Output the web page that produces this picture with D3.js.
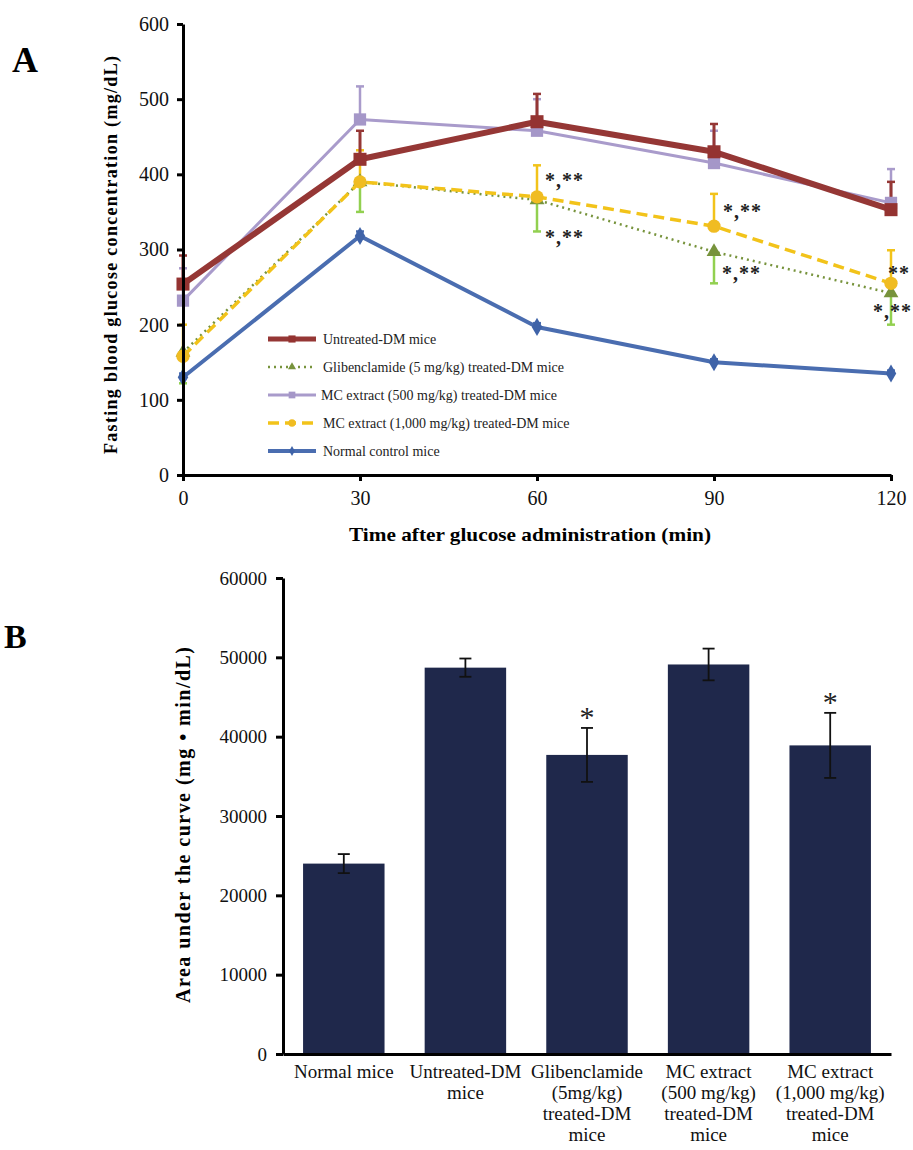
<!DOCTYPE html>
<html>
<head>
<meta charset="utf-8">
<script src="https://cdn.jsdelivr.net/npm/d3@7"></script>
<style>
body { margin: 0; background: #fff; }
text { font-family: "Liberation Serif", "Times New Roman", serif; }
</style>
</head>
<body>
<script>
// panel A data
const times = [0, 30, 60, 90, 120];
const untreated = [254, 420, 470, 430, 353];
const untreatedErr = [38, 38, 37, 37, 37];
const gliben = [163, 390, 366, 297, 242];
const glibenErr = [41, 40, 42, 42, 42];
const mc500 = [232, 473, 458, 415, 362];
const mc500Err = [43, 44, 42, 43, 45];
const mc1000 = [158, 390, 370, 331, 255];
const mc1000Err = [42, 42, 42, 43, 44];
const normal = [130, 318, 197, 150, 135];
const normalErr = [5, 6, 5, 4, 4];
const yTicksA = [0, 100, 200, 300, 400, 500, 600];
const legendLabels = ["Untreated-DM mice", "Glibenclamide (5 mg/kg) treated-DM mice",
  "MC extract (500 mg/kg) treated-DM mice", "MC extract (1,000 mg/kg) treated-DM mice", "Normal control mice"];

// panel B data
const groups = ["Normal mice", "Untreated-DM mice", "Glibenclamide (5mg/kg) treated-DM mice",
  "MC extract (500 mg/kg) treated-DM mice", "MC extract (1,000 mg/kg) treated-DM mice"];
const groupLines = [["Normal mice"], ["Untreated-DM", "mice"], ["Glibenclamide", "(5mg/kg)", "treated-DM", "mice"],
  ["MC extract", "(500 mg/kg)", "treated-DM", "mice"], ["MC extract", "(1,000 mg/kg)", "treated-DM", "mice"]];
const auc = [24000, 48700, 37700, 49100, 38900];
const aucErr = [1200, 1150, 3400, 2000, 4100];
const aucStar = [false, false, true, false, true];
const yTicksB = [0, 10000, 20000, 30000, 40000, 50000, 60000];

const svg = d3.select("body").append("svg")
  .attr("width", 913).attr("height", 1150);

// ---------- Panel A ----------
const xA = d3.scaleLinear().domain([0, 120]).range([183, 891]);
const yA = d3.scaleLinear().domain([0, 600]).range([475, 24]);

const series = [
  { name: legendLabels[4], v: normal, e: normalErr, dir: 1, color: "#4a6db0", width: 4, dash: null,
    sym: d3.symbolDiamond, size: 95, mcolor: "#3f63a8", ecolor: "#4a6db0" },
  { name: legendLabels[1], v: gliben, e: glibenErr, dir: -1, color: "#77933c", width: 2.5, dash: "2,4",
    sym: d3.symbolTriangle, size: 95, mcolor: "#77933c", ecolor: "#92d050" },
  { name: legendLabels[3], v: mc1000, e: mc1000Err, dir: 1, color: "#f2c31a", width: 3.5, dash: "11,6",
    sym: d3.symbolCircle, size: 140, mcolor: "#f0bc22", ecolor: "#f2c31a" },
  { name: legendLabels[2], v: mc500, e: mc500Err, dir: 1, color: "#a99bcb", width: 3, dash: null,
    sym: d3.symbolSquare, size: 150, mcolor: "#a597c8", ecolor: "#a99bcb" },
  { name: legendLabels[0], v: untreated, e: untreatedErr, dir: 1, color: "#953735", width: 6, dash: null,
    sym: d3.symbolSquare, size: 170, mcolor: "#943331", ecolor: "#953735" }
];

const gA = svg.append("g");

// error bars
series.forEach(s => {
  const eb = gA.append("g");
  times.forEach((t, i) => {
    const x = xA(t), y0 = yA(s.v[i]), y1 = yA(s.v[i] + s.dir * s.e[i]);
    eb.append("line").attr("x1", x).attr("x2", x).attr("y1", y0).attr("y2", y1)
      .attr("stroke", s.ecolor).attr("stroke-width", s.width >= 5 ? 3 : 2.5);
    eb.append("line").attr("x1", x - 4).attr("x2", x + 4).attr("y1", y1).attr("y2", y1)
      .attr("stroke", s.ecolor).attr("stroke-width", 2.5);
  });
});

const line = d3.line().x((d, i) => xA(times[i])).y(d => yA(d));
series.forEach(s => {
  gA.append("path").datum(s.v)
    .attr("d", line)
    .attr("fill", "none")
    .attr("stroke", s.color)
    .attr("stroke-width", s.width)
    .attr("stroke-dasharray", s.dash)
    .attr("stroke-linejoin", "round");
  gA.selectAll(null).data(s.v).enter().append("path")
    .attr("transform", (d, i) => `translate(${xA(times[i])},${yA(d)})`)
    .attr("d", d3.symbol().type(s.sym).size(s.size))
    .attr("fill", s.mcolor);
});

// axes A
const axisYA = gA.append("g").attr("transform", "translate(183,0)")
  .call(d3.axisLeft(yA).tickValues(yTicksA).tickSize(6).tickPadding(8).tickSizeOuter(0));
const axisXA = gA.append("g").attr("transform", "translate(0,475)")
  .call(d3.axisBottom(xA).tickValues(times).tickSize(6).tickPadding(10).tickSizeOuter(0));
[axisYA, axisXA].forEach(a => {
  a.select(".domain").attr("stroke", "#000").attr("stroke-width", 3);
  a.selectAll(".tick line").attr("stroke", "#000").attr("stroke-width", 3);
  a.selectAll(".tick text").attr("font-size", 20).attr("fill", "#111")
    .attr("font-family", "Liberation Serif, serif");
});

// significance marks
const starsA = [
  { t: 60, v: mc1000[2], txt: "*,**", dx: 8, dy: -10 },
  { t: 60, v: gliben[2], txt: "*,**", dx: 8, dy: 44 },
  { t: 90, v: mc1000[3], txt: "*,**", dx: 9, dy: -8 },
  { t: 90, v: gliben[3], txt: "*,**", dx: 8, dy: 28 },
  { t: 120, v: mc1000[4], txt: "**", dx: -3, dy: -3 },
  { t: 120, v: gliben[4], txt: "*,**", dx: -18, dy: 25 }
];
gA.selectAll(null).data(starsA).enter().append("text")
  .attr("x", d => xA(d.t) + d.dx)
  .attr("y", d => yA(d.v) + d.dy)
  .attr("font-size", 20).attr("font-weight", "bold").attr("fill", "#222")
  .attr("letter-spacing", 1)
  .text(d => d.txt);

// legend
const legOrder = [4, 1, 3, 2, 0];
const leg = gA.append("g");
legOrder.forEach((si, k) => {
  const s = series[si];
  const y = 339 + k * 28;
  leg.append("line").attr("x1", 268).attr("x2", 316).attr("y1", y).attr("y2", y)
    .attr("stroke", s.color).attr("stroke-width", s.width >= 5 ? 5 : s.width)
    .attr("stroke-dasharray", s.dash);
  leg.append("path").attr("transform", `translate(292,${y})`)
    .attr("d", d3.symbol().type(s.sym).size(s.size * 0.3)).attr("fill", s.mcolor);
  leg.append("text").attr("x", si === 3 ? 321 : 323).attr("y", y + 4.5)
    .attr("font-size", 14).attr("fill", "#222").text(s.name);
});

// titles A
svg.append("text").attr("x", 12).attr("y", 72).attr("font-size", 36).attr("font-weight", "bold").text("A");
svg.append("text").attr("transform", "translate(117,255) rotate(-90)")
  .attr("text-anchor", "middle").attr("font-size", 18).attr("font-weight", "bold")
  .attr("textLength", 398).attr("lengthAdjust", "spacing")
  .text("Fasting blood glucose concentration  (mg/dL)");
svg.append("text").attr("x", 530).attr("y", 541)
  .attr("text-anchor", "middle").attr("font-size", 19).attr("font-weight", "bold")
  .attr("textLength", 362).attr("lengthAdjust", "spacingAndGlyphs")
  .text("Time after glucose administration  (min)");

// ---------- Panel B ----------
const xB = d3.scaleBand().domain(groups).range([283, 891]).paddingInner(0.33).paddingOuter(0.165);
const yB = d3.scaleLinear().domain([0, 60000]).range([1054, 578]);
const gB = svg.append("g");

gB.selectAll(null).data(auc).enter().append("rect")
  .attr("x", (d, i) => xB(groups[i]))
  .attr("y", d => yB(d))
  .attr("width", xB.bandwidth())
  .attr("height", d => yB(0) - yB(d))
  .attr("fill", "#1f284b");

auc.forEach((v, i) => {
  const cx = xB(groups[i]) + xB.bandwidth() / 2;
  const top = yB(v + aucErr[i]), bot = yB(v - aucErr[i]);
  gB.append("line").attr("x1", cx).attr("x2", cx).attr("y1", top).attr("y2", bot)
    .attr("stroke", "#111").attr("stroke-width", 1.8);
  [top, bot].forEach(yy => gB.append("line").attr("x1", cx - 6).attr("x2", cx + 6)
    .attr("y1", yy).attr("y2", yy).attr("stroke", "#111").attr("stroke-width", 1.8));
  if (aucStar[i]) {
    gB.append("text").attr("x", cx).attr("y", top - 1).attr("text-anchor", "middle")
      .attr("font-size", 30).attr("fill", "#222").text("*");
  }
});

const axisYB = gB.append("g").attr("transform", "translate(283,0)")
  .call(d3.axisLeft(yB).tickValues(yTicksB).tickFormat(d3.format("d")).tickSize(7).tickPadding(9).tickSizeOuter(0));
const axisXB = gB.append("g").attr("transform", "translate(0,1054)")
  .call(d3.axisBottom(xB).tickSize(0).tickFormat(""));
[axisYB, axisXB].forEach(a => {
  a.select(".domain").attr("stroke", "#000").attr("stroke-width", 3);
  a.selectAll(".tick line").attr("stroke", "#000").attr("stroke-width", 3);
  a.selectAll(".tick text").attr("font-size", 19).attr("fill", "#111")
    .attr("font-family", "Liberation Serif, serif");
});

groupLines.forEach((lines, i) => {
  const cx = xB(groups[i]) + xB.bandwidth() / 2;
  const t = gB.append("text").attr("x", cx).attr("y", 1078)
    .attr("text-anchor", "middle").attr("font-size", 19).attr("fill", "#111");
  lines.forEach((l, k) => t.append("tspan").attr("x", cx).attr("dy", k ? 21 : 0).text(l));
});

svg.append("text").attr("x", 4).attr("y", 648).attr("font-size", 34).attr("font-weight", "bold").text("B");
svg.append("text").attr("transform", "translate(190,825) rotate(-90)")
  .attr("text-anchor", "middle").attr("font-size", 20).attr("font-weight", "bold")
  .attr("textLength", 356).attr("lengthAdjust", "spacing")
  .text("Area under the curve (mg \u2022 min/dL)");
</script>
</body>
</html>
